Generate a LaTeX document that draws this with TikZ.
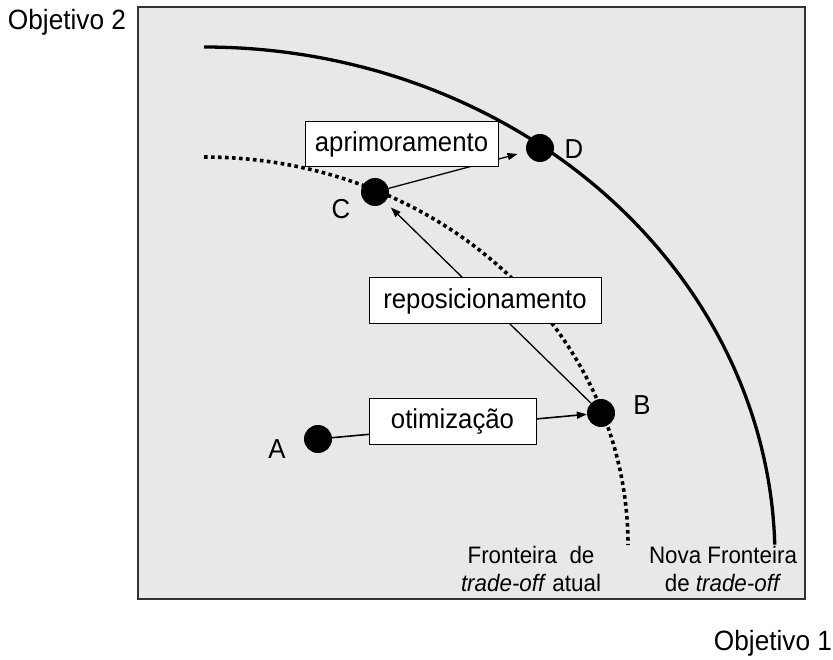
\documentclass[tikz,border=0pt]{standalone}
\usepackage{fontspec}
\setmainfont[FakeStretch=0.94]{Liberation Sans}
\usetikzlibrary{arrows.meta}
\definecolor{panel}{RGB}{232,232,232}
\definecolor{framec}{RGB}{50,50,50}
\tikzset{
  dot/.style={circle, fill=black, minimum size=28pt, inner sep=0pt},
  lbl/.style={font=\fontsize{27.4}{32}\selectfont, inner sep=0pt},
  axislbl/.style={font=\fontsize{27.9}{32}\selectfont, inner sep=0pt},
  smalllbl/.style={font=\fontsize{23.8}{28}\selectfont, align=center, inner sep=0pt},
  stagebox/.style={draw=black, line width=1pt, fill=white, font=\fontsize{27.4}{32}\selectfont, inner sep=0pt},
  arr/.style={line width=1.3pt, -{Triangle[length=10pt,width=7pt]}},
  newfront/.style={line width=3.3pt},
  oldfront/.style={line width=3.6pt, dash pattern=on 3.6pt off 3.4pt},
}
\begin{document}
\begin{tikzpicture}[x=1pt, y=-1pt]
\useasboundingbox (0,0) rectangle (833,660);
% plotting area
\draw[framec, line width=1.6pt, fill=panel] (138,7) rectangle (805,599);

% trade-off frontiers
\draw[newfront] plot[domain=90:1.5, samples=90, smooth] ({204+571*cos(\x)}, {558-511*sin(\x)});
\draw[oldfront] plot[domain=90:0, samples=90, smooth] ({204+424*cos(\x)}, {545-388*sin(\x)});

% positions
\node[dot] (A) at (318,439) {};
\node[dot] (B) at (601,413) {};
\node[dot] (C) at (375,192) {};
\node[dot] (D) at (540,148) {};

% moves between positions
\draw[arr, line width=1.6pt] (A) -- (B);
\draw[arr, shorten >=8pt] (B) -- (C);
\draw[arr, shorten >=9pt] (C) -- (D);

% move labels
\node[stagebox, minimum width=193pt, minimum height=45pt] (apr) at (401.5,144.5) {aprimoramento};
\node[stagebox, minimum width=232pt, minimum height=46pt] (rep) at (485,301) {reposicionamento};
\node[stagebox, minimum width=167pt, minimum height=46pt] (oti) at (452.5,421) {otimização};

% point labels
\node[lbl] (lA) at (277,449) {A};
\node[lbl] (lB) at (642,405) {B};
\node[lbl] (lC) at (341,209) {C};
\node[lbl] (lD) at (574,149) {D};

% frontier captions
\node[smalllbl] (fa) at (531,569) {Fronteira\ \ de\\\textit{trade-off} atual};
\node[smalllbl] (fn) at (723,569) {Nova Fronteira\\de \textit{trade-off}};

% axis names
\node[axislbl] (y) at (67,22) {Objetivo 2};
\node[axislbl] (x) at (773,643) {Objetivo 1};
\end{tikzpicture}
\end{document}
